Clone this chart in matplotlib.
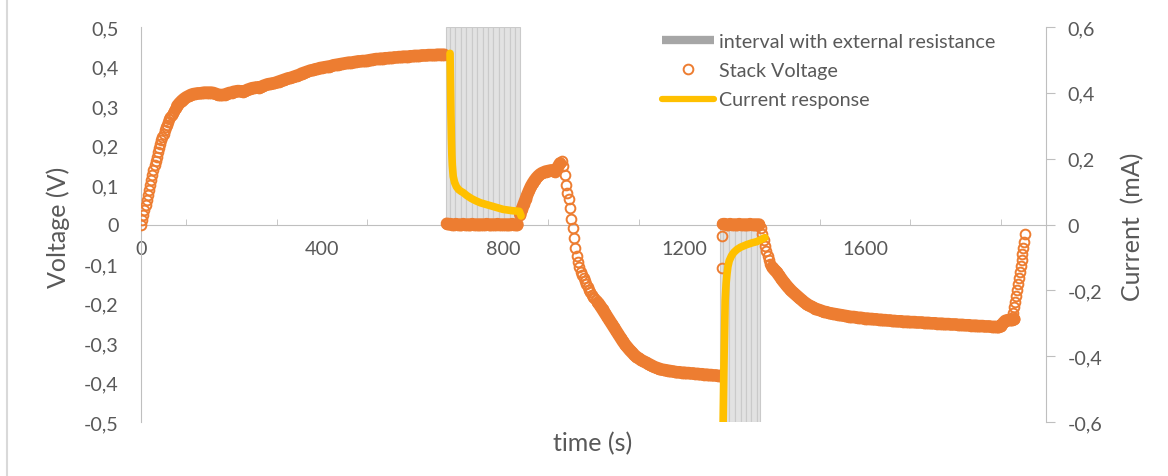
import numpy as np
import matplotlib
matplotlib.use("Agg")
from matplotlib import pyplot as plt
from matplotlib.lines import Line2D
from matplotlib.ticker import FuncFormatter

plt.rcParams['font.family'] = ['Lato', 'DejaVu Sans']

# stack voltage (V), read segment by segment: (start s, step s, values)
volt_rise = [0.000, 0.012, 0.025, 0.037, 0.050, 0.062, 0.075, 0.088, 0.100, 0.112,
             0.125, 0.137, 0.150, 0.161, 0.172, 0.183, 0.193, 0.203, 0.213, 0.222,
             0.230, 0.238, 0.246, 0.253, 0.260, 0.266, 0.272, 0.278, 0.283, 0.288,
             0.292, 0.296]
volt_a = [0.300, 0.307, 0.313, 0.318,
          0.322, 0.325, 0.328, 0.330, 0.331, 0.332, 0.332, 0.333, 0.334, 0.334,
          0.334, 0.334, 0.333, 0.331, 0.329, 0.328, 0.328, 0.329, 0.331, 0.333,
          0.334, 0.336, 0.337, 0.338, 0.337, 0.336, 0.338, 0.341, 0.343, 0.345,
          0.346, 0.347, 0.346, 0.348, 0.351, 0.353, 0.355, 0.356, 0.357, 0.358,
          0.360, 0.362, 0.364, 0.366, 0.368, 0.370, 0.371, 0.373, 0.375, 0.377,
          0.379, 0.382, 0.384, 0.386, 0.388, 0.390, 0.391, 0.393, 0.394, 0.396,
          0.397, 0.398, 0.399, 0.400, 0.401, 0.403, 0.404, 0.405, 0.406, 0.407,
          0.408, 0.409, 0.410, 0.410, 0.411, 0.412, 0.413, 0.413, 0.414, 0.414,
          0.415, 0.416, 0.417, 0.418, 0.419, 0.419, 0.420, 0.420, 0.421, 0.421,
          0.422, 0.422, 0.423, 0.423, 0.424, 0.424, 0.425, 0.425, 0.425, 0.426,
          0.426, 0.427, 0.427, 0.427, 0.428, 0.428, 0.428, 0.429, 0.429, 0.429,
          0.429, 0.430, 0.430, 0.430, 0.430]
volt_b = [0.002, 0.001, 0.001, 0.000, 0.000, 0.001, 0.000, 0.000, 0.000, 0.001,
          0.000, 0.000, 0.000, 0.000, 0.001, 0.000, 0.000, 0.000, 0.000, 0.000,
          0.000, 0.000, 0.001, 0.000, 0.000, 0.000, 0.000, 0.000, 0.001, 0.000,
          0.000, 0.000, 0.000, 0.000, 0.000, 0.000, 0.001, 0.000, 0.000, 0.000]
volt_c1 = [0.025, 0.040, 0.052, 0.064, 0.076, 0.087, 0.097, 0.105, 0.112, 0.118,
           0.123, 0.127, 0.130, 0.132, 0.134, 0.135, 0.136, 0.137, 0.137, 0.134,
           0.138, 0.147, 0.155]
volt_c2 = [0.160, 0.148, 0.125, 0.100, 0.080, 0.065, 0.042, 0.015, -0.008, -0.035,
           -0.060, -0.080, -0.094, -0.108, -0.120, -0.128, -0.136, -0.144, -0.151, -0.159,
           -0.166, -0.172, -0.178, -0.183, -0.187, -0.191, -0.195]
volt_c3 = [-0.198, -0.206, -0.215, -0.224, -0.233, -0.242, -0.251, -0.260, -0.269, -0.278,
           -0.287, -0.296, -0.304, -0.311, -0.318, -0.324, -0.330, -0.335, -0.339, -0.343,
           -0.346, -0.349, -0.352, -0.355, -0.358, -0.361, -0.363, -0.365, -0.367, -0.368,
           -0.369, -0.370, -0.371, -0.372, -0.373, -0.374, -0.374, -0.375, -0.375, -0.376,
           -0.376, -0.377, -0.377, -0.378, -0.378, -0.379, -0.379, -0.380, -0.380, -0.381,
           -0.381, -0.382, -0.382, -0.383, -0.383]
volt_jump = [-0.110, -0.030]
volt_d = [0.001, 0.001, 0.000, 0.000, 0.001, 0.000, 0.000, 0.000, 0.000, 0.001,
          0.000, 0.000, 0.000, 0.000, 0.000, 0.001, 0.000, 0.000, 0.000, 0.000, 0.000]
volt_e0 = [-0.010, -0.025, -0.040, -0.055, -0.068, -0.080, -0.090, -0.100]
volt_e = [-0.108, -0.115, -0.121, -0.129, -0.137, -0.145,
          -0.152, -0.159, -0.165, -0.171, -0.176, -0.181, -0.186, -0.191, -0.196, -0.200,
          -0.204, -0.207, -0.210, -0.213, -0.215, -0.217, -0.219, -0.221, -0.222, -0.224,
          -0.225, -0.226, -0.227, -0.228, -0.229, -0.230, -0.231, -0.232, -0.233, -0.234,
          -0.234, -0.235, -0.236, -0.236, -0.237, -0.238, -0.238, -0.239, -0.239, -0.240,
          -0.240, -0.241, -0.241, -0.242, -0.242, -0.243, -0.243, -0.244, -0.244, -0.245,
          -0.245, -0.245, -0.246, -0.246, -0.246, -0.247, -0.247, -0.247, -0.248, -0.248,
          -0.248, -0.249, -0.249, -0.249, -0.250, -0.250, -0.250, -0.251, -0.251, -0.251,
          -0.252, -0.252, -0.252, -0.253, -0.253, -0.253, -0.254, -0.254, -0.254, -0.255,
          -0.255, -0.255, -0.256, -0.256, -0.256, -0.257, -0.257, -0.257, -0.258, -0.258,
          -0.258, -0.259, -0.259, -0.259, -0.260, -0.258, -0.250, -0.244, -0.242, -0.242,
          -0.242, -0.240]
volt_f = [-0.235, -0.225, -0.210, -0.195, -0.180, -0.165, -0.150, -0.135, -0.120, -0.105,
          -0.090, -0.075, -0.060, -0.045, -0.025]

# (start, step, values, densely sampled -> drawn as a solid band of circles)
volt_segments = [(0, 2.5, volt_rise, False), (80, 5, volt_a, True), (676, 4, volt_b, True),
                 (838, 4, volt_c1, True), (930, 3, volt_c2, False),
                 (1010, 5, volt_c3, True), (1283, 1, volt_jump, False),
                 (1286, 4, volt_d, True), (1370, 3, volt_e0, False),
                 (1395, 5, volt_e, True), (1926, 2, volt_f, False)]

# current response (mA)
cur1_t = [683, 684, 685, 686, 687, 688, 690, 693, 697, 702, 708, 712, 720, 730, 740,
          750, 765, 780, 800, 820, 836, 840]
cur1_v = [0.52, 0.42, 0.33, 0.26, 0.21, 0.18, 0.146, 0.128, 0.115, 0.106, 0.100, 0.097,
          0.088, 0.079, 0.072, 0.066, 0.060, 0.054, 0.046, 0.042, 0.040, 0.026]
cur2_t = [1286, 1287, 1288, 1289, 1290, 1291, 1293, 1295, 1297, 1300, 1305, 1310, 1317,
          1325, 1339, 1350, 1361, 1370, 1379]
cur2_v = [-0.65, -0.55, -0.45, -0.37, -0.30, -0.23, -0.18, -0.15, -0.128, -0.11, -0.095,
          -0.085, -0.076, -0.069, -0.061, -0.056, -0.052, -0.046, -0.040]

# interval with external resistance (column edges in s, column height in V)
ext1_edges = [674, 683, 695, 707, 719, 731, 743, 755, 767, 779, 791, 803, 815, 826, 838]
ext1_h = 0.5
ext2_edges = [1280, 1287, 1300, 1313, 1325, 1337, 1349, 1361, 1369]
ext2_h = -0.5

x_labels = [0, 400, 800, 1200, 1600]
x_minor = [100, 300, 500, 700, 900, 1100, 1300, 1500, 1700, 1900]
v_ticks = [-0.5, -0.4, -0.3, -0.2, -0.1, 0, 0.1, 0.2, 0.3, 0.4, 0.5]
i_ticks = [-0.6, -0.4, -0.2, 0, 0.2, 0.4, 0.6]

ORANGE = '#ED7D31'
YELLOW = '#FFC000'
TXT = '#595959'
AX = '#BFBFBF'
FS = 14.2
FT = 18

W, H = 1168, 477
fig = plt.figure(figsize=(W / 100, H / 100), dpi=100)
ax = fig.add_axes([141 / W, 1 - 423 / H, (1046 - 141) / W, (423 - 28) / H])

# gray columns
for edges, h in [(ext1_edges, ext1_h), (ext2_edges, ext2_h)]:
    e = np.array(edges, dtype=float)
    ax.bar(e[:-1], h, width=np.diff(e), align='edge', color='#E2E2E2',
           edgecolor='#CACACA', linewidth=0.8, zorder=1)

for start, step, vals, dense in volt_segments:
    t = start + step * np.arange(len(vals))
    if dense:
        ax.plot(t, vals, color=ORANGE, lw=9, solid_capstyle='round', zorder=3)
    ax.plot(t, vals, ls='none', marker='o', mfc='none', mec=ORANGE, ms=7, mew=1.4,
            zorder=3)

ax.set_xlim(0, 2000)
ax.set_ylim(-0.5, 0.5)
ax.spines['top'].set_visible(False)
ax.spines['right'].set_visible(False)
ax.spines['bottom'].set_position(('data', 0))
ax.spines['bottom'].set_color(AX)
ax.spines['left'].set_color(AX)
ax.set_xticks(x_labels)
ax.set_xticks(x_minor, minor=True)
ax.set_yticks(v_ticks)

fmt = FuncFormatter(lambda v, p: '0' if abs(v) < 1e-9 else f'{v:.1f}'.replace('.', ','))
ax.yaxis.set_major_formatter(fmt)
ax.tick_params(axis='x', which='major', length=0, pad=11, labelsize=FS, labelcolor=TXT)
ax.tick_params(axis='x', which='minor', direction='in', length=4, color=AX)
ax.tick_params(axis='y', length=0, pad=16, labelsize=FS, labelcolor=TXT)

ax2 = ax.twinx()
ax2.plot(cur1_t, cur1_v, color=YELLOW, lw=5.5, solid_capstyle='round')
ax2.plot(cur2_t, cur2_v, color=YELLOW, lw=5.5, solid_capstyle='round')
ax2.set_ylim(-0.6, 0.6)
for s in ['top', 'left', 'bottom']:
    ax2.spines[s].set_visible(False)
ax2.spines['right'].set_color(AX)
ax2.set_yticks(i_ticks)
ax2.yaxis.set_major_formatter(fmt)
ax2.tick_params(axis='y', length=6.5, color=AX, pad=9, labelsize=FS, labelcolor=TXT)

handles = [Line2D([], [], color='#A6A6A6', lw=6, solid_capstyle='butt'),
           Line2D([], [], ls='none', marker='o', mfc='none', mec=ORANGE, ms=7, mew=1.4),
           Line2D([], [], color=YELLOW, lw=4.5, solid_capstyle='round')]
labels = ['interval with external resistance', 'Stack Voltage', 'Current response']
ax2.legend(handles, labels, loc='upper left', bbox_to_anchor=(662 / W, 1 - 34 / H),
           bbox_transform=fig.transFigure, frameon=False, fontsize=FS, labelcolor=TXT,
           handlelength=2.65, handletextpad=0.22, labelspacing=0.62, borderpad=0,
           borderaxespad=0)

fig.text(58 / W, 1 - 227 / H, 'Voltage (V)', rotation=90, ha='center', va='center',
         fontsize=FT, color=TXT)
fig.text(1133 / W, 1 - 227 / H, 'Current  (mA)', rotation=90, ha='center', va='center',
         fontsize=FT, color=TXT)
fig.text(593 / W, 1 - 444 / H, 'time (s)', ha='center', va='center',
         fontsize=FT, color=TXT)
fig.add_artist(Line2D([7 / W, 7 / W], [0, 1], transform=fig.transFigure, color='#D9D9D9',
                      lw=1.5))

fig.savefig('out.png', dpi=100)
